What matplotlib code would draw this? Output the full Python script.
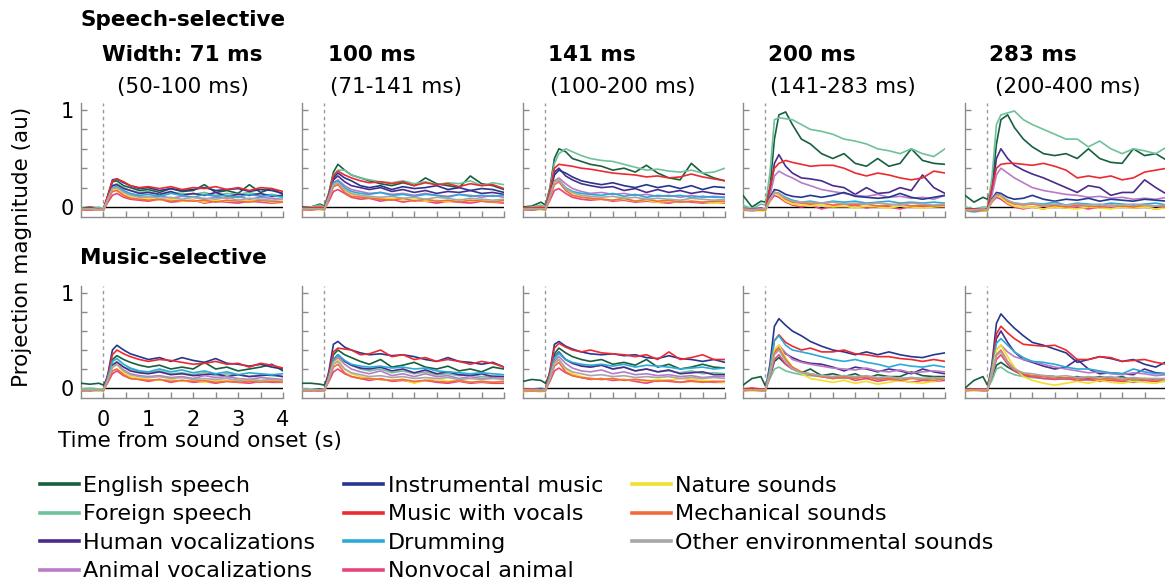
import matplotlib
matplotlib.use('Agg')
import matplotlib.pyplot as plt
from matplotlib.lines import Line2D

# ---------------- data ----------------
time_s = [-0.5, -0.3, -0.1, 0.0, 0.1, 0.2, 0.3, 0.45, 0.6, 0.8, 1.0, 1.25, 1.5,
          1.75, 2.0, 2.25, 2.5, 2.75, 3.0, 3.25, 3.5, 3.75, 4.0]

categories = ["English speech", "Foreign speech", "Human vocalizations",
              "Animal vocalizations", "Instrumental music", "Music with vocals",
              "Drumming", "Nonvocal animal", "Nature sounds", "Mechanical sounds",
              "Other environmental sounds"]

colors = ["#17603d", "#6fc19a", "#4a2b8c", "#b77bc7", "#25368f", "#ec2a30",
          "#2aaad6", "#e8447c", "#f1df2c", "#f36b3c", "#a7a7a7"]

col_titles = ["Width: 71 ms", "100 ms", "141 ms", "200 ms", "283 ms"]
col_ranges = ["(50-100 ms)", "(71-141 ms)", "(100-200 ms)", "(141-283 ms)", "(200-400 ms)"]
row_titles = ["Speech-selective", "Music-selective"]

# order of series in each panel follows `categories`
speech_w71 = [
    [-0.01, 0.0, -0.01, -0.02, 0.12, 0.26, 0.27, 0.22, 0.2, 0.17, 0.18, 0.15, 0.19, 0.16, 0.17, 0.23, 0.15, 0.17, 0.14, 0.23, 0.15, 0.19, 0.13],
    [-0.01, -0.02, 0.0, -0.02, 0.1, 0.22, 0.24, 0.2, 0.17, 0.15, 0.16, 0.13, 0.15, 0.14, 0.13, 0.15, 0.12, 0.14, 0.13, 0.15, 0.12, 0.13, 0.11],
    [-0.02, -0.01, -0.03, -0.03, 0.1, 0.22, 0.23, 0.19, 0.17, 0.14, 0.15, 0.13, 0.16, 0.12, 0.14, 0.12, 0.15, 0.11, 0.13, 0.12, 0.14, 0.11, 0.12],
    [-0.02, -0.03, -0.02, -0.03, 0.08, 0.18, 0.2, 0.16, 0.13, 0.11, 0.1, 0.12, 0.09, 0.11, 0.1, 0.08, 0.1, 0.09, 0.11, 0.08, 0.1, 0.09, 0.08],
    [-0.03, -0.02, -0.03, -0.03, 0.12, 0.28, 0.29, 0.25, 0.22, 0.19, 0.2, 0.17, 0.19, 0.17, 0.18, 0.2, 0.17, 0.18, 0.19, 0.16, 0.18, 0.17, 0.14],
    [-0.02, -0.01, -0.02, -0.02, 0.12, 0.27, 0.29, 0.26, 0.22, 0.2, 0.21, 0.19, 0.21, 0.18, 0.2, 0.19, 0.21, 0.18, 0.2, 0.17, 0.2, 0.19, 0.16],
    [-0.03, -0.02, -0.02, -0.03, 0.08, 0.2, 0.21, 0.17, 0.14, 0.12, 0.13, 0.11, 0.14, 0.12, 0.1, 0.13, 0.11, 0.12, 0.1, 0.13, 0.11, 0.12, 0.1],
    [-0.02, -0.03, -0.02, -0.03, 0.05, 0.12, 0.14, 0.1, 0.08, 0.07, 0.06, 0.08, 0.05, 0.06, 0.07, 0.04, 0.06, 0.05, 0.04, 0.06, 0.05, 0.04, 0.05],
    [-0.03, -0.02, -0.03, -0.03, 0.08, 0.18, 0.18, 0.13, 0.1, 0.08, 0.09, 0.07, 0.08, 0.06, 0.07, 0.05, 0.07, 0.06, 0.08, 0.06, 0.07, 0.05, 0.06],
    [-0.03, -0.03, -0.02, -0.03, 0.07, 0.16, 0.17, 0.12, 0.09, 0.08, 0.07, 0.08, 0.06, 0.07, 0.06, 0.07, 0.05, 0.07, 0.06, 0.05, 0.07, 0.06, 0.05],
    [-0.02, -0.02, -0.03, -0.02, 0.08, 0.19, 0.2, 0.15, 0.12, 0.1, 0.11, 0.09, 0.1, 0.08, 0.1, 0.09, 0.08, 0.1, 0.07, 0.09, 0.08, 0.07, 0.08],
]
speech_w100 = [
    [0.0, 0.0, 0.03, 0.01, 0.15, 0.36, 0.44, 0.38, 0.33, 0.3, 0.27, 0.24, 0.22, 0.25, 0.22, 0.3, 0.24, 0.22, 0.2, 0.32, 0.24, 0.22, 0.18],
    [-0.01, 0.0, 0.02, 0.0, 0.14, 0.33, 0.38, 0.38, 0.33, 0.3, 0.28, 0.26, 0.25, 0.27, 0.24, 0.26, 0.23, 0.25, 0.24, 0.27, 0.22, 0.25, 0.23],
    [-0.02, -0.02, -0.01, -0.02, 0.12, 0.28, 0.32, 0.26, 0.22, 0.2, 0.18, 0.2, 0.16, 0.18, 0.15, 0.17, 0.14, 0.16, 0.15, 0.17, 0.14, 0.15, 0.13],
    [-0.02, -0.02, -0.01, -0.02, 0.1, 0.25, 0.28, 0.22, 0.18, 0.16, 0.14, 0.15, 0.13, 0.14, 0.12, 0.14, 0.12, 0.11, 0.13, 0.12, 0.1, 0.12, 0.1],
    [-0.02, -0.01, -0.02, -0.02, 0.13, 0.3, 0.35, 0.3, 0.27, 0.22, 0.2, 0.22, 0.18, 0.21, 0.19, 0.2, 0.22, 0.18, 0.2, 0.17, 0.19, 0.18, 0.15],
    [-0.01, -0.01, 0.0, -0.01, 0.13, 0.32, 0.37, 0.33, 0.3, 0.27, 0.25, 0.26, 0.24, 0.26, 0.22, 0.25, 0.23, 0.24, 0.21, 0.24, 0.22, 0.23, 0.19],
    [-0.02, -0.02, -0.02, -0.02, 0.1, 0.25, 0.27, 0.2, 0.16, 0.14, 0.13, 0.15, 0.12, 0.13, 0.11, 0.13, 0.12, 0.1, 0.13, 0.11, 0.12, 0.11, 0.12],
    [-0.02, -0.03, -0.02, -0.02, 0.06, 0.16, 0.18, 0.14, 0.1, 0.08, 0.09, 0.06, 0.08, 0.05, 0.07, 0.06, 0.04, 0.06, 0.05, 0.04, 0.06, 0.05, 0.04],
    [-0.03, -0.02, -0.03, -0.03, 0.09, 0.22, 0.25, 0.17, 0.13, 0.11, 0.1, 0.08, 0.09, 0.07, 0.08, 0.06, 0.07, 0.05, 0.08, 0.06, 0.07, 0.05, 0.06],
    [-0.03, -0.03, -0.02, -0.03, 0.09, 0.21, 0.23, 0.15, 0.11, 0.1, 0.09, 0.08, 0.07, 0.09, 0.06, 0.08, 0.06, 0.07, 0.05, 0.07, 0.06, 0.05, 0.07],
    [-0.02, -0.02, -0.02, -0.02, 0.1, 0.23, 0.25, 0.18, 0.14, 0.12, 0.11, 0.1, 0.11, 0.09, 0.1, 0.08, 0.1, 0.09, 0.07, 0.09, 0.08, 0.07, 0.08],
]
speech_w141 = [
    [0.0, 0.01, 0.05, 0.02, 0.2, 0.5, 0.6, 0.57, 0.5, 0.47, 0.44, 0.42, 0.38, 0.4, 0.36, 0.43, 0.35, 0.3, 0.28, 0.45, 0.35, 0.3, 0.27],
    [-0.01, 0.0, 0.02, 0.0, 0.18, 0.45, 0.55, 0.6, 0.57, 0.53, 0.5, 0.48, 0.47, 0.44, 0.41, 0.38, 0.39, 0.37, 0.36, 0.38, 0.35, 0.36, 0.4],
    [-0.02, -0.02, -0.01, -0.02, 0.15, 0.36, 0.4, 0.32, 0.28, 0.24, 0.22, 0.2, 0.21, 0.17, 0.19, 0.15, 0.18, 0.15, 0.17, 0.14, 0.16, 0.14, 0.13],
    [-0.02, -0.02, -0.02, -0.02, 0.12, 0.27, 0.3, 0.24, 0.19, 0.16, 0.14, 0.15, 0.13, 0.14, 0.12, 0.13, 0.11, 0.12, 0.1, 0.12, 0.1, 0.11, 0.1],
    [-0.02, -0.02, -0.02, -0.02, 0.14, 0.33, 0.38, 0.35, 0.31, 0.27, 0.25, 0.23, 0.25, 0.22, 0.2, 0.23, 0.2, 0.22, 0.19, 0.22, 0.18, 0.21, 0.2],
    [-0.01, -0.01, 0.0, -0.01, 0.16, 0.4, 0.44, 0.43, 0.42, 0.4, 0.39, 0.37, 0.35, 0.34, 0.33, 0.31, 0.32, 0.3, 0.31, 0.34, 0.31, 0.29, 0.27],
    [-0.02, -0.03, -0.02, -0.02, 0.1, 0.26, 0.28, 0.2, 0.16, 0.14, 0.13, 0.12, 0.14, 0.11, 0.13, 0.1, 0.12, 0.11, 0.12, 0.1, 0.11, 0.1, 0.1],
    [-0.02, -0.03, -0.02, -0.02, 0.07, 0.17, 0.19, 0.14, 0.1, 0.08, 0.07, 0.08, 0.06, 0.07, 0.05, 0.06, 0.05, 0.04, 0.06, 0.05, 0.04, 0.05, 0.04],
    [-0.03, -0.02, -0.03, -0.03, 0.1, 0.25, 0.28, 0.18, 0.13, 0.1, 0.09, 0.08, 0.07, 0.08, 0.06, 0.07, 0.05, 0.06, 0.05, 0.06, 0.05, 0.04, 0.05],
    [-0.03, -0.03, -0.02, -0.03, 0.1, 0.23, 0.26, 0.17, 0.12, 0.1, 0.09, 0.08, 0.07, 0.09, 0.06, 0.08, 0.06, 0.07, 0.05, 0.06, 0.05, 0.06, 0.06],
    [-0.02, -0.02, -0.02, -0.02, 0.11, 0.26, 0.28, 0.19, 0.15, 0.12, 0.11, 0.1, 0.11, 0.09, 0.1, 0.08, 0.09, 0.08, 0.07, 0.09, 0.08, 0.07, 0.08],
]
speech_w200 = [
    [0.12, 0.0, 0.06, 0.05, 0.2, 0.7, 0.95, 0.98, 0.85, 0.7, 0.65, 0.55, 0.5, 0.55, 0.45, 0.42, 0.5, 0.42, 0.45, 0.6, 0.48, 0.45, 0.44],
    [0.02, -0.02, 0.03, 0.02, 0.35, 0.9, 0.92, 0.91, 0.9, 0.85, 0.8, 0.78, 0.75, 0.7, 0.68, 0.65, 0.6, 0.58, 0.55, 0.6, 0.55, 0.52, 0.6],
    [-0.02, -0.02, -0.01, -0.02, 0.15, 0.45, 0.54, 0.42, 0.35, 0.3, 0.29, 0.27, 0.22, 0.2, 0.13, 0.2, 0.14, 0.15, 0.2, 0.17, 0.33, 0.2, 0.14],
    [-0.02, -0.02, -0.02, -0.02, 0.12, 0.32, 0.37, 0.33, 0.3, 0.25, 0.22, 0.18, 0.16, 0.14, 0.12, 0.11, 0.13, 0.1, 0.11, 0.09, 0.1, 0.08, 0.12],
    [-0.03, -0.02, -0.03, -0.03, 0.1, 0.18, 0.17, 0.13, 0.11, 0.1, 0.12, 0.1, 0.12, 0.15, 0.11, 0.1, 0.09, 0.1, 0.14, 0.1, 0.08, 0.1, 0.12],
    [-0.02, -0.02, -0.02, -0.02, 0.2, 0.4, 0.45, 0.48, 0.46, 0.44, 0.42, 0.43, 0.43, 0.4, 0.35, 0.32, 0.35, 0.33, 0.3, 0.28, 0.3, 0.37, 0.35],
    [-0.03, -0.04, -0.03, -0.03, 0.08, 0.15, 0.14, 0.1, 0.07, 0.05, 0.06, 0.04, 0.06, 0.05, 0.06, 0.04, 0.05, 0.06, 0.04, 0.05, 0.04, 0.05, 0.04],
    [-0.03, -0.02, -0.03, -0.03, 0.06, 0.12, 0.1, 0.05, 0.02, 0.0, 0.02, -0.02, 0.01, 0.0, 0.02, -0.01, 0.01, 0.0, -0.02, 0.01, 0.0, 0.01, 0.0],
    [-0.04, -0.03, -0.04, -0.04, 0.07, 0.15, 0.12, 0.06, 0.03, 0.02, 0.01, 0.02, 0.0, 0.01, -0.01, 0.01, 0.0, -0.01, 0.01, 0.0, -0.01, 0.0, 0.01],
    [-0.03, -0.03, -0.03, -0.03, 0.08, 0.15, 0.14, 0.08, 0.05, 0.04, 0.03, 0.04, 0.02, 0.03, 0.02, 0.03, 0.01, 0.02, 0.03, 0.01, 0.02, 0.01, 0.02],
    [-0.02, -0.03, -0.02, -0.02, 0.08, 0.15, 0.14, 0.09, 0.06, 0.05, 0.05, 0.04, 0.05, 0.03, 0.04, 0.03, 0.04, 0.03, 0.02, 0.04, 0.03, 0.02, 0.03],
]
speech_w283 = [
    [0.12, 0.05, 0.1, 0.08, 0.2, 0.65, 0.9, 0.95, 0.82, 0.7, 0.62, 0.55, 0.53, 0.55, 0.5, 0.6, 0.5, 0.46, 0.45, 0.6, 0.53, 0.55, 0.48],
    [0.0, -0.02, 0.0, 0.0, 0.3, 0.85, 0.95, 0.97, 0.99, 0.9, 0.85, 0.8, 0.75, 0.7, 0.7, 0.62, 0.68, 0.6, 0.55, 0.6, 0.58, 0.55, 0.62],
    [-0.03, -0.02, -0.02, -0.03, 0.15, 0.5, 0.6, 0.5, 0.43, 0.38, 0.34, 0.3, 0.25, 0.2, 0.15, 0.22, 0.2, 0.12, 0.15, 0.15, 0.28, 0.2, 0.13],
    [-0.02, -0.03, -0.02, -0.02, 0.12, 0.33, 0.4, 0.35, 0.3, 0.25, 0.2, 0.17, 0.15, 0.13, 0.12, 0.1, 0.11, 0.09, 0.1, 0.08, 0.09, 0.08, 0.1],
    [-0.03, -0.04, -0.03, -0.03, 0.08, 0.15, 0.14, 0.1, 0.08, 0.09, 0.12, 0.08, 0.06, 0.08, 0.07, 0.09, 0.06, 0.08, 0.07, 0.06, 0.08, 0.07, 0.06],
    [-0.02, -0.02, -0.02, -0.02, 0.2, 0.4, 0.44, 0.45, 0.45, 0.44, 0.43, 0.45, 0.42, 0.38, 0.3, 0.32, 0.3, 0.32, 0.28, 0.3, 0.36, 0.38, 0.4],
    [-0.04, -0.05, -0.04, -0.04, 0.06, 0.12, 0.1, 0.06, 0.04, 0.03, 0.04, 0.03, 0.05, 0.02, 0.04, 0.03, 0.02, 0.04, 0.03, 0.02, 0.03, 0.04, 0.02],
    [-0.03, -0.03, -0.04, -0.03, 0.05, 0.1, 0.08, 0.03, 0.0, -0.02, 0.0, -0.02, 0.01, -0.01, 0.0, -0.02, 0.0, -0.01, 0.01, -0.01, 0.0, -0.02, 0.0],
    [-0.04, -0.03, -0.04, -0.04, 0.06, 0.12, 0.1, 0.04, 0.01, -0.01, 0.0, -0.02, 0.0, -0.01, -0.02, 0.0, -0.01, -0.02, 0.0, -0.01, 0.0, -0.02, -0.01],
    [-0.03, -0.04, -0.03, -0.03, 0.07, 0.13, 0.12, 0.06, 0.03, 0.02, 0.03, 0.01, 0.02, 0.0, 0.02, 0.01, 0.0, 0.02, 0.01, 0.0, 0.02, 0.01, 0.0],
    [-0.03, -0.03, -0.02, -0.03, 0.07, 0.12, 0.12, 0.07, 0.04, 0.03, 0.04, 0.02, 0.03, 0.02, 0.03, 0.02, 0.03, 0.01, 0.02, 0.03, 0.02, 0.01, 0.02],
]
music_w71 = [
    [0.05, 0.04, 0.05, 0.03, 0.12, 0.3, 0.34, 0.3, 0.27, 0.24, 0.22, 0.24, 0.2, 0.22, 0.2, 0.27, 0.2, 0.22, 0.18, 0.2, 0.22, 0.25, 0.18],
    [-0.01, 0.0, -0.01, -0.01, 0.1, 0.25, 0.28, 0.22, 0.2, 0.17, 0.16, 0.18, 0.15, 0.16, 0.14, 0.16, 0.13, 0.15, 0.14, 0.12, 0.14, 0.13, 0.12],
    [-0.02, -0.02, -0.02, -0.02, 0.1, 0.24, 0.27, 0.22, 0.18, 0.16, 0.15, 0.17, 0.14, 0.15, 0.13, 0.14, 0.15, 0.12, 0.14, 0.12, 0.13, 0.14, 0.12],
    [-0.02, -0.02, -0.03, -0.02, 0.09, 0.22, 0.25, 0.19, 0.15, 0.13, 0.12, 0.13, 0.11, 0.12, 0.1, 0.13, 0.11, 0.12, 0.1, 0.09, 0.11, 0.1, 0.09],
    [-0.03, -0.02, -0.02, -0.02, 0.15, 0.4, 0.45, 0.4, 0.36, 0.33, 0.3, 0.32, 0.28, 0.32, 0.29, 0.27, 0.31, 0.26, 0.25, 0.23, 0.25, 0.22, 0.2],
    [-0.02, -0.02, -0.02, -0.02, 0.13, 0.35, 0.4, 0.36, 0.33, 0.3, 0.28, 0.3, 0.29, 0.27, 0.25, 0.26, 0.28, 0.25, 0.26, 0.22, 0.26, 0.24, 0.21],
    [-0.02, -0.03, -0.02, -0.02, 0.11, 0.28, 0.31, 0.25, 0.21, 0.18, 0.17, 0.2, 0.17, 0.19, 0.16, 0.18, 0.15, 0.17, 0.14, 0.16, 0.15, 0.14, 0.15],
    [-0.02, -0.02, -0.02, -0.02, 0.06, 0.15, 0.18, 0.13, 0.1, 0.09, 0.07, 0.09, 0.06, 0.08, 0.06, 0.07, 0.05, 0.07, 0.06, 0.05, 0.07, 0.06, 0.06],
    [-0.03, -0.02, -0.03, -0.03, 0.08, 0.22, 0.25, 0.16, 0.12, 0.1, 0.09, 0.08, 0.09, 0.07, 0.08, 0.06, 0.08, 0.07, 0.09, 0.08, 0.07, 0.08, 0.07],
    [-0.03, -0.03, -0.02, -0.03, 0.07, 0.18, 0.2, 0.14, 0.1, 0.09, 0.08, 0.09, 0.07, 0.08, 0.07, 0.08, 0.06, 0.07, 0.06, 0.07, 0.06, 0.07, 0.06],
    [-0.02, -0.02, -0.02, -0.02, 0.09, 0.22, 0.25, 0.18, 0.14, 0.12, 0.11, 0.12, 0.1, 0.11, 0.09, 0.1, 0.09, 0.1, 0.08, 0.09, 0.08, 0.09, 0.08],
]
music_w100 = [
    [0.05, 0.05, 0.04, 0.03, 0.15, 0.35, 0.4, 0.35, 0.32, 0.28, 0.25, 0.3, 0.22, 0.24, 0.27, 0.22, 0.2, 0.23, 0.18, 0.2, 0.17, 0.22, 0.2],
    [-0.01, -0.01, -0.01, -0.01, 0.12, 0.3, 0.35, 0.28, 0.24, 0.2, 0.18, 0.2, 0.16, 0.18, 0.15, 0.17, 0.14, 0.15, 0.13, 0.14, 0.12, 0.13, 0.12],
    [-0.02, -0.02, -0.01, -0.02, 0.12, 0.3, 0.35, 0.28, 0.24, 0.21, 0.2, 0.22, 0.18, 0.2, 0.16, 0.19, 0.15, 0.17, 0.14, 0.13, 0.15, 0.12, 0.12],
    [-0.02, -0.02, -0.02, -0.02, 0.1, 0.27, 0.32, 0.25, 0.2, 0.17, 0.15, 0.18, 0.13, 0.15, 0.12, 0.15, 0.12, 0.13, 0.1, 0.12, 0.1, 0.11, 0.1],
    [-0.03, -0.02, -0.03, -0.02, 0.18, 0.46, 0.49, 0.43, 0.4, 0.37, 0.35, 0.36, 0.34, 0.35, 0.33, 0.3, 0.28, 0.32, 0.28, 0.27, 0.25, 0.27, 0.22],
    [-0.02, -0.02, -0.02, -0.02, 0.15, 0.38, 0.42, 0.41, 0.4, 0.35, 0.36, 0.4, 0.33, 0.35, 0.3, 0.32, 0.28, 0.3, 0.28, 0.25, 0.28, 0.26, 0.22],
    [-0.02, -0.03, -0.02, -0.02, 0.12, 0.3, 0.35, 0.29, 0.25, 0.23, 0.22, 0.23, 0.21, 0.22, 0.2, 0.21, 0.18, 0.17, 0.16, 0.15, 0.16, 0.15, 0.14],
    [-0.02, -0.02, -0.02, -0.02, 0.07, 0.17, 0.2, 0.15, 0.12, 0.1, 0.08, 0.1, 0.07, 0.08, 0.06, 0.08, 0.06, 0.05, 0.07, 0.05, 0.06, 0.05, 0.05],
    [-0.03, -0.02, -0.03, -0.03, 0.1, 0.26, 0.3, 0.2, 0.15, 0.12, 0.1, 0.09, 0.08, 0.09, 0.05, 0.08, 0.1, 0.07, 0.08, 0.06, 0.07, 0.06, 0.07],
    [-0.03, -0.03, -0.03, -0.03, 0.09, 0.22, 0.25, 0.16, 0.12, 0.1, 0.1, 0.09, 0.08, 0.09, 0.07, 0.08, 0.07, 0.06, 0.08, 0.06, 0.07, 0.06, 0.07],
    [-0.02, -0.02, -0.02, -0.02, 0.1, 0.25, 0.28, 0.2, 0.16, 0.14, 0.12, 0.13, 0.11, 0.12, 0.1, 0.11, 0.1, 0.11, 0.09, 0.1, 0.09, 0.1, 0.09],
]
music_w141 = [
    [0.07, 0.09, 0.08, 0.05, 0.15, 0.36, 0.42, 0.37, 0.33, 0.3, 0.28, 0.3, 0.25, 0.27, 0.24, 0.3, 0.22, 0.25, 0.2, 0.22, 0.25, 0.22, 0.21],
    [-0.01, -0.01, 0.0, -0.01, 0.12, 0.3, 0.36, 0.3, 0.26, 0.24, 0.22, 0.24, 0.2, 0.22, 0.18, 0.2, 0.17, 0.18, 0.16, 0.18, 0.15, 0.16, 0.15],
    [-0.02, -0.02, -0.01, -0.02, 0.13, 0.33, 0.38, 0.3, 0.26, 0.23, 0.22, 0.24, 0.2, 0.22, 0.18, 0.2, 0.17, 0.19, 0.15, 0.16, 0.17, 0.14, 0.14],
    [-0.02, -0.02, -0.02, -0.02, 0.11, 0.28, 0.33, 0.26, 0.21, 0.18, 0.17, 0.19, 0.15, 0.17, 0.14, 0.15, 0.13, 0.14, 0.12, 0.13, 0.11, 0.12, 0.12],
    [-0.03, -0.02, -0.03, -0.02, 0.18, 0.46, 0.49, 0.44, 0.41, 0.38, 0.36, 0.35, 0.36, 0.34, 0.35, 0.32, 0.31, 0.34, 0.31, 0.3, 0.28, 0.3, 0.27],
    [-0.01, -0.01, -0.02, -0.01, 0.17, 0.42, 0.47, 0.43, 0.4, 0.38, 0.4, 0.37, 0.36, 0.35, 0.33, 0.35, 0.3, 0.38, 0.3, 0.32, 0.35, 0.3, 0.3],
    [-0.02, -0.03, -0.02, -0.02, 0.13, 0.32, 0.37, 0.3, 0.27, 0.25, 0.24, 0.25, 0.23, 0.25, 0.22, 0.24, 0.23, 0.22, 0.2, 0.21, 0.22, 0.2, 0.21],
    [-0.02, -0.03, -0.02, -0.02, 0.07, 0.18, 0.21, 0.16, 0.13, 0.11, 0.09, 0.1, 0.08, 0.09, 0.07, 0.05, 0.08, 0.07, 0.06, 0.08, 0.07, 0.06, 0.06],
    [-0.04, -0.03, -0.04, -0.03, 0.1, 0.26, 0.3, 0.2, 0.15, 0.12, 0.1, 0.09, 0.1, 0.08, 0.09, 0.07, 0.09, 0.08, 0.1, 0.09, 0.08, 0.07, 0.06],
    [-0.03, -0.03, -0.03, -0.03, 0.09, 0.23, 0.27, 0.17, 0.13, 0.11, 0.1, 0.09, 0.1, 0.08, 0.09, 0.08, 0.07, 0.08, 0.06, 0.07, 0.06, 0.07, 0.07],
    [-0.02, -0.02, -0.02, -0.02, 0.1, 0.26, 0.3, 0.21, 0.17, 0.15, 0.13, 0.14, 0.12, 0.13, 0.11, 0.12, 0.11, 0.12, 0.1, 0.11, 0.1, 0.11, 0.1],
]
music_w200 = [
    [0.03, 0.1, 0.12, 0.02, 0.12, 0.28, 0.32, 0.25, 0.2, 0.16, 0.2, 0.13, 0.15, 0.12, 0.15, 0.1, 0.14, 0.12, 0.12, 0.17, 0.13, 0.12, 0.12],
    [-0.01, -0.01, -0.01, -0.01, 0.1, 0.2, 0.22, 0.18, 0.16, 0.14, 0.13, 0.12, 0.12, 0.1, 0.11, 0.12, 0.1, 0.11, 0.1, 0.11, 0.1, 0.1, 0.09],
    [-0.02, -0.01, -0.01, -0.02, 0.15, 0.38, 0.42, 0.36, 0.32, 0.28, 0.26, 0.25, 0.22, 0.18, 0.22, 0.2, 0.17, 0.2, 0.18, 0.15, 0.2, 0.17, 0.15],
    [-0.02, -0.02, -0.02, -0.02, 0.15, 0.4, 0.45, 0.37, 0.3, 0.27, 0.25, 0.23, 0.21, 0.2, 0.19, 0.21, 0.18, 0.17, 0.19, 0.16, 0.17, 0.18, 0.17],
    [-0.02, -0.01, -0.02, -0.02, 0.25, 0.65, 0.73, 0.66, 0.6, 0.55, 0.49, 0.44, 0.4, 0.38, 0.35, 0.38, 0.35, 0.38, 0.35, 0.33, 0.32, 0.35, 0.37],
    [-0.01, 0.0, -0.01, -0.01, 0.2, 0.5, 0.56, 0.48, 0.44, 0.4, 0.42, 0.38, 0.38, 0.4, 0.36, 0.35, 0.33, 0.33, 0.31, 0.3, 0.28, 0.3, 0.28],
    [-0.02, -0.02, -0.02, -0.02, 0.2, 0.5, 0.55, 0.45, 0.4, 0.38, 0.36, 0.33, 0.3, 0.28, 0.3, 0.27, 0.25, 0.22, 0.25, 0.23, 0.22, 0.24, 0.22],
    [-0.02, -0.02, -0.02, -0.02, 0.12, 0.3, 0.35, 0.25, 0.2, 0.16, 0.15, 0.12, 0.1, 0.12, 0.08, 0.1, 0.07, 0.09, 0.08, 0.06, 0.08, 0.07, 0.08],
    [-0.03, -0.03, -0.03, -0.03, 0.15, 0.4, 0.45, 0.32, 0.22, 0.15, 0.1, 0.08, 0.06, 0.08, 0.05, 0.07, 0.04, 0.06, 0.08, 0.06, 0.05, 0.07, 0.1],
    [-0.03, -0.02, -0.03, -0.03, 0.14, 0.37, 0.42, 0.3, 0.22, 0.17, 0.14, 0.12, 0.1, 0.11, 0.1, 0.12, 0.09, 0.1, 0.08, 0.1, 0.09, 0.08, 0.1],
    [-0.02, -0.02, -0.02, -0.02, 0.14, 0.35, 0.4, 0.28, 0.2, 0.16, 0.15, 0.13, 0.12, 0.13, 0.12, 0.13, 0.11, 0.12, 0.1, 0.11, 0.1, 0.11, 0.1],
]
music_w283 = [
    [0.0, 0.08, 0.12, 0.03, 0.1, 0.24, 0.27, 0.22, 0.18, 0.14, 0.12, 0.13, 0.12, 0.1, 0.12, 0.1, 0.12, 0.1, 0.12, 0.08, 0.1, 0.08, 0.08],
    [-0.02, -0.01, -0.01, -0.01, 0.08, 0.2, 0.22, 0.17, 0.14, 0.12, 0.11, 0.1, 0.1, 0.09, 0.1, 0.08, 0.09, 0.1, 0.08, 0.09, 0.08, 0.07, 0.08],
    [-0.02, -0.02, -0.02, -0.02, 0.2, 0.52, 0.6, 0.48, 0.38, 0.3, 0.27, 0.23, 0.2, 0.22, 0.3, 0.2, 0.15, 0.16, 0.15, 0.14, 0.2, 0.16, 0.15],
    [-0.02, -0.02, -0.02, -0.02, 0.16, 0.4, 0.45, 0.38, 0.33, 0.3, 0.28, 0.25, 0.22, 0.2, 0.18, 0.16, 0.17, 0.15, 0.14, 0.16, 0.15, 0.13, 0.14],
    [-0.02, -0.01, -0.02, -0.02, 0.25, 0.68, 0.78, 0.7, 0.63, 0.55, 0.48, 0.45, 0.41, 0.37, 0.27, 0.3, 0.33, 0.31, 0.28, 0.3, 0.25, 0.22, 0.28],
    [-0.01, -0.01, -0.01, -0.01, 0.22, 0.57, 0.65, 0.58, 0.52, 0.46, 0.45, 0.44, 0.45, 0.4, 0.3, 0.3, 0.33, 0.32, 0.28, 0.29, 0.3, 0.27, 0.25],
    [-0.02, -0.02, -0.02, -0.02, 0.2, 0.47, 0.52, 0.45, 0.38, 0.32, 0.28, 0.27, 0.25, 0.22, 0.2, 0.2, 0.18, 0.16, 0.15, 0.2, 0.17, 0.15, 0.15],
    [-0.02, -0.02, -0.02, -0.02, 0.13, 0.3, 0.35, 0.25, 0.18, 0.13, 0.12, 0.1, 0.09, 0.1, 0.08, 0.09, 0.07, 0.08, 0.07, 0.06, 0.08, 0.07, 0.07],
    [-0.03, -0.03, -0.03, -0.03, 0.16, 0.4, 0.45, 0.33, 0.22, 0.12, 0.08, 0.05, 0.03, 0.05, 0.07, 0.05, 0.08, 0.06, 0.05, 0.07, 0.06, 0.05, 0.08],
    [-0.03, -0.02, -0.03, -0.03, 0.14, 0.35, 0.4, 0.28, 0.2, 0.15, 0.13, 0.12, 0.1, 0.11, 0.1, 0.11, 0.09, 0.1, 0.08, 0.1, 0.09, 0.08, 0.1],
    [-0.02, -0.02, -0.02, -0.02, 0.14, 0.34, 0.38, 0.27, 0.2, 0.16, 0.15, 0.13, 0.12, 0.13, 0.11, 0.12, 0.11, 0.12, 0.1, 0.11, 0.1, 0.1, 0.1],
]

speech_panels = [speech_w71, speech_w100, speech_w141, speech_w200, speech_w283]
music_panels = [music_w71, music_w100, music_w141, music_w200, music_w283]

# ---------------- layout (pixels) ----------------
W, H = 1165, 587
plt.rcParams['font.family'] = ['DejaVu Sans']
fig = plt.figure(figsize=(W / 100, H / 100), dpi=100)

col_left = [81, 302, 523, 743, 965]
ax_w = 202
rows = [(207, 97), (388, 95)]   # (pixel y of value 0, pixels per unit)
YMIN, YMAX = -0.1, 1.07
GRAY = "#8a8a8a"


def make_ax(x0, yzero, ppu):
    bottom = yzero - YMIN * ppu
    top = yzero - YMAX * ppu
    return fig.add_axes([x0 / W, 1 - bottom / H, ax_w / W, (bottom - top) / H])


for r, panels in enumerate([speech_panels, music_panels]):
    yzero, ppu = rows[r]
    for c, series in enumerate(panels):
        ax = make_ax(col_left[c], yzero, ppu)
        ax.axvline(0, color="#999999", lw=1.0, ls=(0, (2.5, 2.5)), zorder=1)
        ax.hlines(0, 0, 4, color="black", lw=1.0, zorder=2)
        for vals, col in zip(series, colors):
            ax.plot(time_s, vals, color=col, lw=1.2, zorder=3)
        ax.set_xlim(-0.5, 4.0)
        ax.set_ylim(YMIN, YMAX)
        for s in ["top", "right"]:
            ax.spines[s].set_visible(False)
        for s in ["left", "bottom"]:
            ax.spines[s].set_color(GRAY)
            ax.spines[s].set_linewidth(1.0)
        ax.set_xticks([0, 0.5, 1, 1.5, 2, 2.5, 3, 3.5, 4])
        ax.set_yticks([0, 0.2, 0.4, 0.6, 0.8, 1.0])
        ax.tick_params(direction="in", length=4, width=1, color=GRAY,
                       labelsize=15, pad=5)
        if c == 0:
            ax.set_yticklabels(["0", "", "", "", "", "1"])
        else:
            ax.set_yticklabels([])
        if r == 1 and c == 0:
            ax.set_xticklabels(["0", "", "1", "", "2", "", "3", "", "4"])
            ax.tick_params(axis="x", pad=9)
        else:
            ax.set_xticklabels([])


def ftext(x, y, s, **kw):
    fig.text(x / W, 1 - y / H, s, **kw)


# titles
ftext(80, 20, row_titles[0], fontsize=15.5, fontweight="bold", ha="left", va="center")
ftext(80, 258, row_titles[1], fontsize=15.5, fontweight="bold", ha="left", va="center")
title_cx = [182, 372, 592, 812, 1033]
range_cx = [183, 396, 623, 843, 1068]
for c in range(5):
    ftext(title_cx[c], 55, col_titles[c], fontsize=15.5, fontweight="bold",
          ha="center", va="center")
    ftext(range_cx[c], 87, col_ranges[c], fontsize=15.5, ha="center", va="center")

# axis labels
ftext(22, 247, "Projection magnitude (au)", fontsize=15.5, rotation=90,
      ha="center", va="center")
ftext(200, 441, "Time from sound onset (s)", fontsize=15.5, ha="center", va="center")

# legend
handles = [Line2D([], [], color=col, lw=2.6) for col in colors]
fig.legend(handles, categories, ncol=3, loc="upper left",
           bbox_to_anchor=(40 / W, 1 - 476 / H), frameon=False, fontsize=16,
           handlelength=1.75, handletextpad=0.2, columnspacing=1.3,
           labelspacing=0.38, borderpad=0, borderaxespad=0)

fig.savefig("out.png", dpi=100)
